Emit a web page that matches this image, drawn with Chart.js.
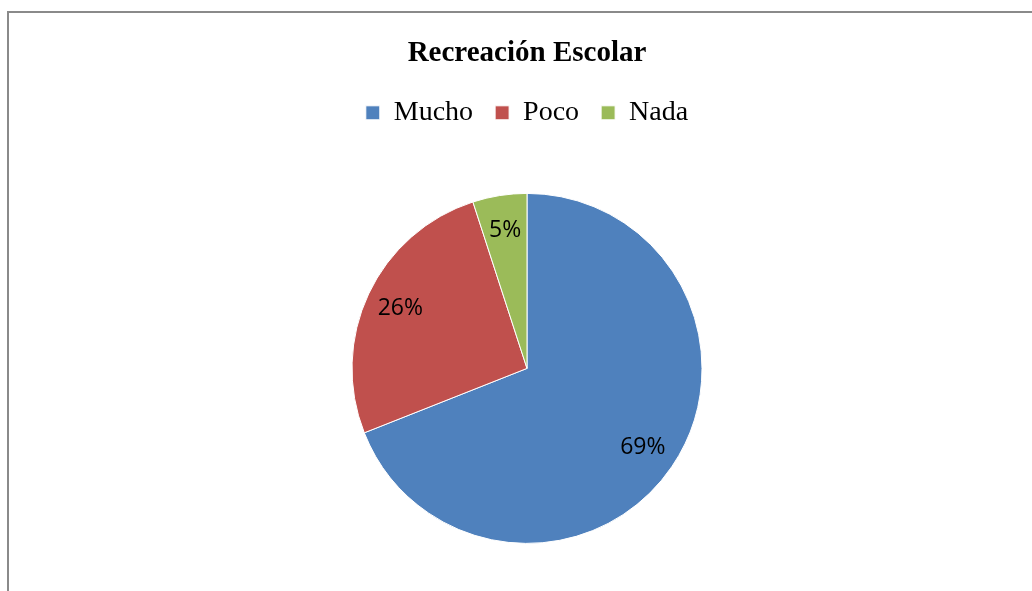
<!DOCTYPE html>
<html>
<head>
<meta charset="utf-8">
<script src="https://cdn.jsdelivr.net/npm/chart.js@4/dist/chart.umd.min.js"></script>
<style>
  html, body { margin: 0; padding: 0; background: #fff; overflow: hidden; }
  #wrap { position: relative; width: 1032px; height: 591px; overflow: hidden; }
  #frame { position: absolute; left: 7px; top: 11px; right: 0; bottom: 0;
           border-left: 2px solid #8a8a8a; border-top: 2px solid #8a8a8a; }
  canvas { position: absolute; left: 0; top: 0; }
</style>
</head>
<body>
<div id="wrap">
  <div id="frame"></div>
  <canvas id="pieChart" width="1032" height="600"></canvas>
</div>
<script>
const labels = ['Mucho', 'Poco', 'Nada'];
const values = [69, 26, 5];
const colors = ['#4F81BD', '#C0504D', '#9BBB59'];

// percentage labels inside each slice
const sliceLabels = {
    id: 'sliceLabels',
    afterDatasetsDraw(chart) {
        const ctx = chart.ctx;
        const meta = chart.getDatasetMeta(0);
        ctx.save();
        ctx.font = '23px "Open Sans"';
        ctx.fillStyle = '#000';
        ctx.textAlign = 'center';
        ctx.textBaseline = 'middle';
        meta.data.forEach((arc, i) => {
            const p = arc.getProps(['x', 'y', 'startAngle', 'endAngle', 'outerRadius'], true);
            const mid = (p.startAngle + p.endAngle) / 2;
            const r = p.outerRadius * 0.8;
            ctx.fillText(values[i] + '%', p.x + Math.cos(mid) * r, p.y + Math.sin(mid) * r);
        });
        ctx.restore();
    }
};

const ctxPie = document.getElementById('pieChart').getContext('2d');
const pieChart = new Chart(ctxPie, {
    type: 'pie',
    data: {
        labels: labels,
        datasets: [{
            data: values,
            backgroundColor: colors,
            borderColor: '#fff',
            borderWidth: 1,
            radius: 175
        }]
    },
    options: {
        responsive: false,
        animation: false,
        layout: { padding: { left: 22, right: 0, top: 0, bottom: 0 } },
        plugins: {
            title: {
                display: true,
                text: 'Recreación Escolar',
                color: '#000',
                font: { family: '"Liberation Serif", "Times New Roman", serif', size: 29, weight: 'bold' },
                padding: { top: 36, bottom: 6 }
            },
            legend: {
                position: 'top',
                labels: {
                    color: '#000',
                    boxWidth: 14,
                    boxHeight: 14,
                    padding: 22,
                    font: { family: '"Liberation Serif", "Times New Roman", serif', size: 28 }
                }
            },
            tooltip: { enabled: false }
        }
    },
    plugins: [sliceLabels]
});
</script>
</body>
</html>
